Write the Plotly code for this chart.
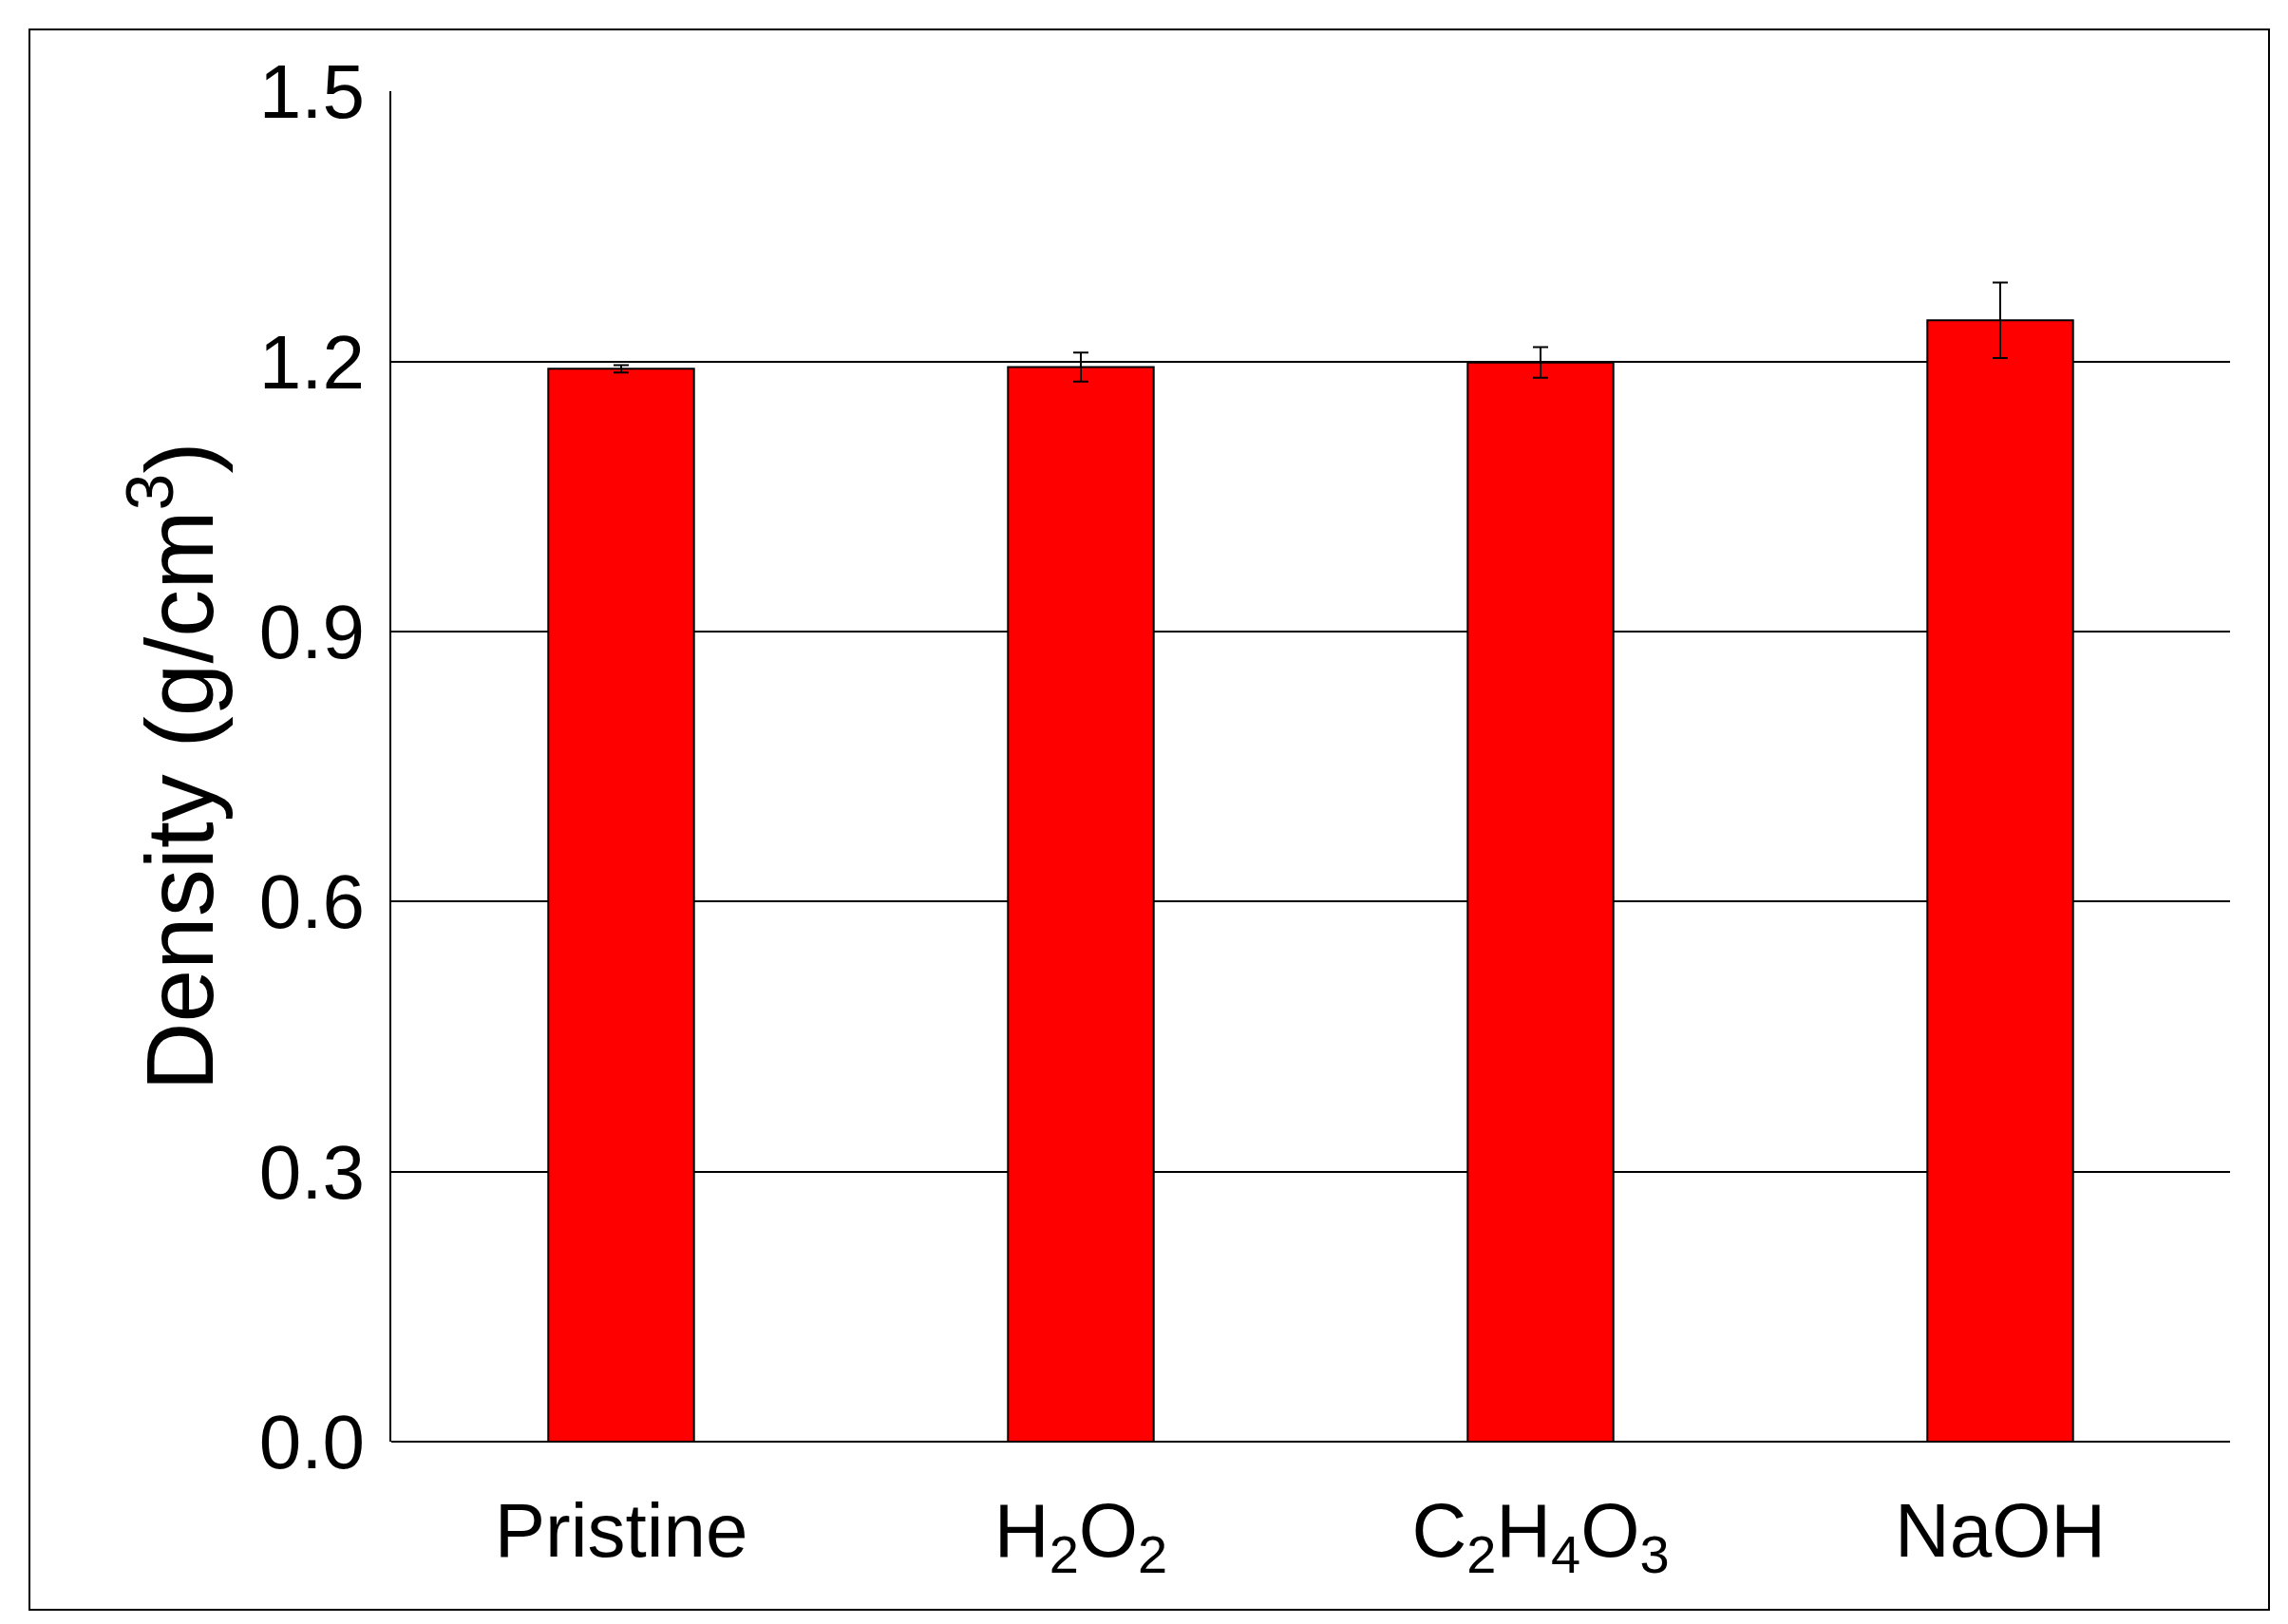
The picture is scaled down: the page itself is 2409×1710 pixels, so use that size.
import plotly.graph_objects as go

categories = ["Pristine", "H<sub>2</sub>O<sub>2</sub>", "C<sub>2</sub>H<sub>4</sub>O<sub>3</sub>", "NaOH"]
density = [1.192, 1.194, 1.199, 1.246]
errors = [0.004, 0.016, 0.017, 0.042]
yticks = [0.0, 0.3, 0.6, 0.9, 1.2, 1.5]

fig = go.Figure(go.Bar(
    x=categories, y=density, width=0.317,
    marker=dict(color="#ff0000", line=dict(color="black", width=2)),
    error_y=dict(type="data", array=errors, color="black", thickness=2, width=8),
))
W, H = 2409, 1710
l, r, t, b = 404, 69, 88, 200
pw, ph = W - l - r, H - t - b
fig.update_layout(
    width=W, height=H, margin=dict(l=l, r=r, t=t, b=b),
    plot_bgcolor="white", paper_bgcolor="white", showlegend=False,
    font=dict(family="Liberation Sans, Arial", color="black"),
    xaxis=dict(tickfont=dict(size=80), showline=False, ticks="", ticklabelstandoff=40),
    yaxis=dict(range=[0, 1.5005], tickvals=yticks, ticktext=[f"{v:.1f}" for v in yticks],
               tickfont=dict(size=80), showgrid=True, gridcolor="black", gridwidth=2,
               showline=True, linecolor="black", linewidth=2, ticks="", zeroline=True,
               zerolinecolor="black", zerolinewidth=2, ticklabelstandoff=10,
               title=dict(text="Density (g/cm<sup>3</sup>)", font=dict(size=100), standoff=15)),
    shapes=[dict(type="rect", xref="paper", yref="paper",
                 x0=(23 - l) / pw, x1=(2381 - l) / pw,
                 y0=(t + ph - 1687) / ph, y1=(t + ph - 23) / ph,
                 line=dict(color="black", width=2))],
)
fig.write_html("out.html")
